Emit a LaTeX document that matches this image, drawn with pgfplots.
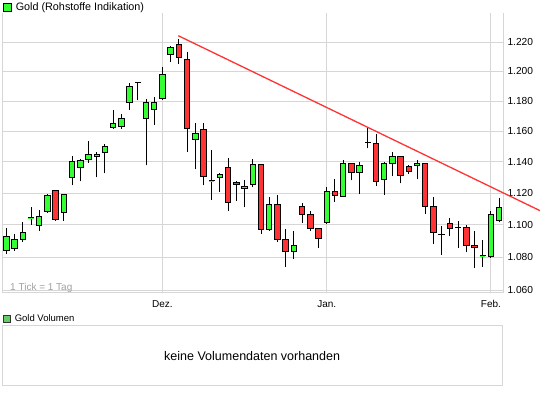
\documentclass[border=0pt]{standalone}
\usepackage{fontspec}
\setmainfont{Liberation Sans}
\usepackage{pgfplots}
\usepackage{pgfplotstable}
\pgfplotsset{compat=1.18}
\definecolor{cgreen}{RGB}{51,255,51}
\definecolor{cred}{RGB}{255,51,51}
\definecolor{gridgray}{RGB}{214,214,214}
\definecolor{txtgray}{RGB}{160,160,160}
\definecolor{volgreen}{RGB}{102,204,102}

% daily candles: open high low close
\pgfplotstableread{
o h l c
1.0843 1.0980 1.0822 1.0930
1.0856 1.0944 1.0841 1.0911
1.0911 1.1019 1.0897 1.0955
1.1044 1.1114 1.1002 1.1046
1.0996 1.1093 1.0965 1.1055
1.1082 1.1196 1.1075 1.1187
1.1219 1.1222 1.1025 1.1033
1.1078 1.1197 1.1027 1.1194
1.1297 1.1440 1.1249 1.1400
1.1361 1.1421 1.1275 1.1406
1.1413 1.1536 1.1394 1.1451
1.1432 1.1466 1.1301 1.1447
1.1464 1.1515 1.1326 1.1502
1.1622 1.1741 1.1616 1.1652
1.1632 1.1712 1.1616 1.1686
1.1787 1.1922 1.1743 1.1895
1.1924 1.1927 1.1804 1.1926
1.1686 1.1814 1.1378 1.1787
1.1743 1.1829 1.1642 1.1793
1.1818 1.2032 1.1809 1.1976
1.2118 1.2177 1.2061 1.2166
1.2186 1.2224 1.2050 1.2098
1.2084 1.2134 1.1466 1.1616
1.1544 1.1654 1.1352 1.1585
1.1611 1.1654 1.1249 1.1307
1.1278 1.1479 1.1158 1.1280
1.1301 1.1329 1.1208 1.1316
1.1361 1.1428 1.1090 1.1143
1.1268 1.1279 1.1153 1.1252
1.1230 1.1286 1.1110 1.1245
1.1258 1.1421 1.1236 1.1381
1.1381 1.1383 1.0946 1.0973
1.0973 1.1177 1.0965 1.1125
1.1125 1.1189 1.0895 1.0911
1.0911 1.0975 1.0743 1.0837
1.0837 1.0963 1.0792 1.0874
1.1118 1.1139 1.1015 1.1068
1.1068 1.1088 1.0965 1.0980
1.0980 1.0982 1.0860 1.0918
1.1017 1.1239 1.1004 1.1213
1.1213 1.1292 1.1147 1.1187
1.1181 1.1415 1.1178 1.1387
1.1387 1.1389 1.1281 1.1329
1.1329 1.1400 1.1194 1.1374
1.1527 1.1625 1.1487 1.1529
1.1521 1.1579 1.1245 1.1277
1.1284 1.1397 1.1187 1.1387
1.1387 1.1464 1.1307 1.1432
1.1432 1.1434 1.1262 1.1310
1.1368 1.1383 1.1325 1.1336
1.1374 1.1413 1.1288 1.1387
1.1387 1.1389 1.1068 1.1118
1.1118 1.1175 1.0881 1.0955
1.0941 1.0992 1.0816 1.0943
1.1011 1.1042 1.0930 1.0980
1.0985 1.1023 1.0856 1.0987
1.0986 1.0998 1.0831 1.0874
1.0874 1.0961 1.0737 1.0862
1.0809 1.0909 1.0743 1.0811
1.0804 1.1086 1.0798 1.1068
1.1030 1.1168 1.1017 1.1112
}\candles

\pgfplotsset{
  candleup/.style={draw=black, fill=cgreen, line width=1pt, line join=miter},
  candledn/.style={draw=black, fill=cred, line width=1pt, line join=miter},
  wick/.style={draw=black, line width=1pt},
}

\begin{document}
\begin{tikzpicture}
\useasboundingbox (0,0) rectangle (545pt,395pt);
\begin{axis}[
  at={(2.3pt,102pt)}, anchor=south west,
  scale only axis, width=501pt, height=280pt,
  xmin=-0.5, xmax=60.5,
  ymode=log, ymin=1.0584, ymax=1.2404,
  axis x line*=bottom, axis y line*=box,
  axis line style={gridgray, line width=1pt},
  grid=major, major grid style={gridgray, line width=1pt},
  yminorticks=false, xminorticks=false,
  major tick length=0pt,
  clip=false,
  xtick={19,39,59}, xticklabels={Dez.,Jan.,Feb.},
  xticklabel style={anchor=north, inner sep=0pt, yshift=-7.3pt, font=\fontsize{10}{12}\selectfont},
  ytick={1.06,1.08,1.10,1.12,1.14,1.16,1.18,1.20,1.22},
  yticklabels={1.060,1.080,1.100,1.120,1.140,1.160,1.180,1.200,1.220},
  yticklabel pos=right,
  yticklabel style={anchor=west, inner sep=0pt, xshift=4pt, font=\fontsize{10.2}{12}\selectfont},
  legend style={at={(0,1)}, anchor=south west, draw=none, fill=none,
    inner sep=0pt, outer sep=0pt, xshift=0.7pt, yshift=0.6pt,
    column sep=4pt, nodes={inner sep=0pt},
    font=\fontsize{10.8}{12}\selectfont},
  legend cell align=left,
]
\addlegendimage{legend image code/.code={\draw[black, fill=cgreen, line width=0.8pt] (0pt,-4pt) rectangle (8pt,4pt);}}
\addlegendentry{Gold (Rohstoffe Indikation)}

\pgfplotsinvokeforeach{0,...,60}{%
  \pgfplotstablegetelem{#1}{o}\of\candles \let\cO\pgfplotsretval
  \pgfplotstablegetelem{#1}{h}\of\candles \let\cH\pgfplotsretval
  \pgfplotstablegetelem{#1}{l}\of\candles \let\cL\pgfplotsretval
  \pgfplotstablegetelem{#1}{c}\of\candles \let\cC\pgfplotsretval
  \pgfmathtruncatemacro\isup{\cC>=\cO}%
  \ifnum\isup=1 \def\csty{candleup}\else\def\csty{candledn}\fi
  \pgfmathsetmacro\xa{#1-0.33}%
  \pgfmathsetmacro\xb{#1+0.33}%
  \edef\temp{%
    \noexpand\addplot[wick] coordinates {(#1,\cL) (#1,\cH)};
    \noexpand\addplot[\csty] coordinates {(\xa,\cO) (\xb,\cO) (\xb,\cC) (\xa,\cC)} -- cycle;
  }\temp
}

% trend line
\addplot[cred, line width=1.3pt] coordinates {(20.93,1.2245) (64.95,1.1090)};

\node[anchor=base west, inner sep=0pt, text=txtgray, font=\fontsize{10}{12}\selectfont,
  xshift=7.7pt, yshift=2.3pt] at (rel axis cs:0,0) {1 Tick = 1 Tag};
\end{axis}

\begin{axis}[
  at={(2.3pt,9pt)}, anchor=south west,
  scale only axis, width=499.7pt, height=60.3pt,
  xmin=0, xmax=1, ymin=0, ymax=1,
  xtick=\empty, ytick=\empty,
  axis line style={gridgray, line width=1pt},
  legend style={at={(0,1)}, anchor=south west, draw=none, fill=none,
    inner sep=0pt, outer sep=0pt, xshift=0.7pt, yshift=3pt,
    column sep=4pt, nodes={inner sep=0pt},
    font=\fontsize{9.5}{11}\selectfont},
  legend cell align=left,
]
\addlegendimage{legend image code/.code={\draw[black!80, fill=volgreen, line width=0.8pt] (0pt,-3.5pt) rectangle (7pt,3.5pt);}}
\addlegendentry{Gold Volumen}
\node[font=\fontsize{12.5}{14}\selectfont] at (rel axis cs:0.5,0.5) {keine Volumendaten vorhanden};
\end{axis}
\end{tikzpicture}
\end{document}
